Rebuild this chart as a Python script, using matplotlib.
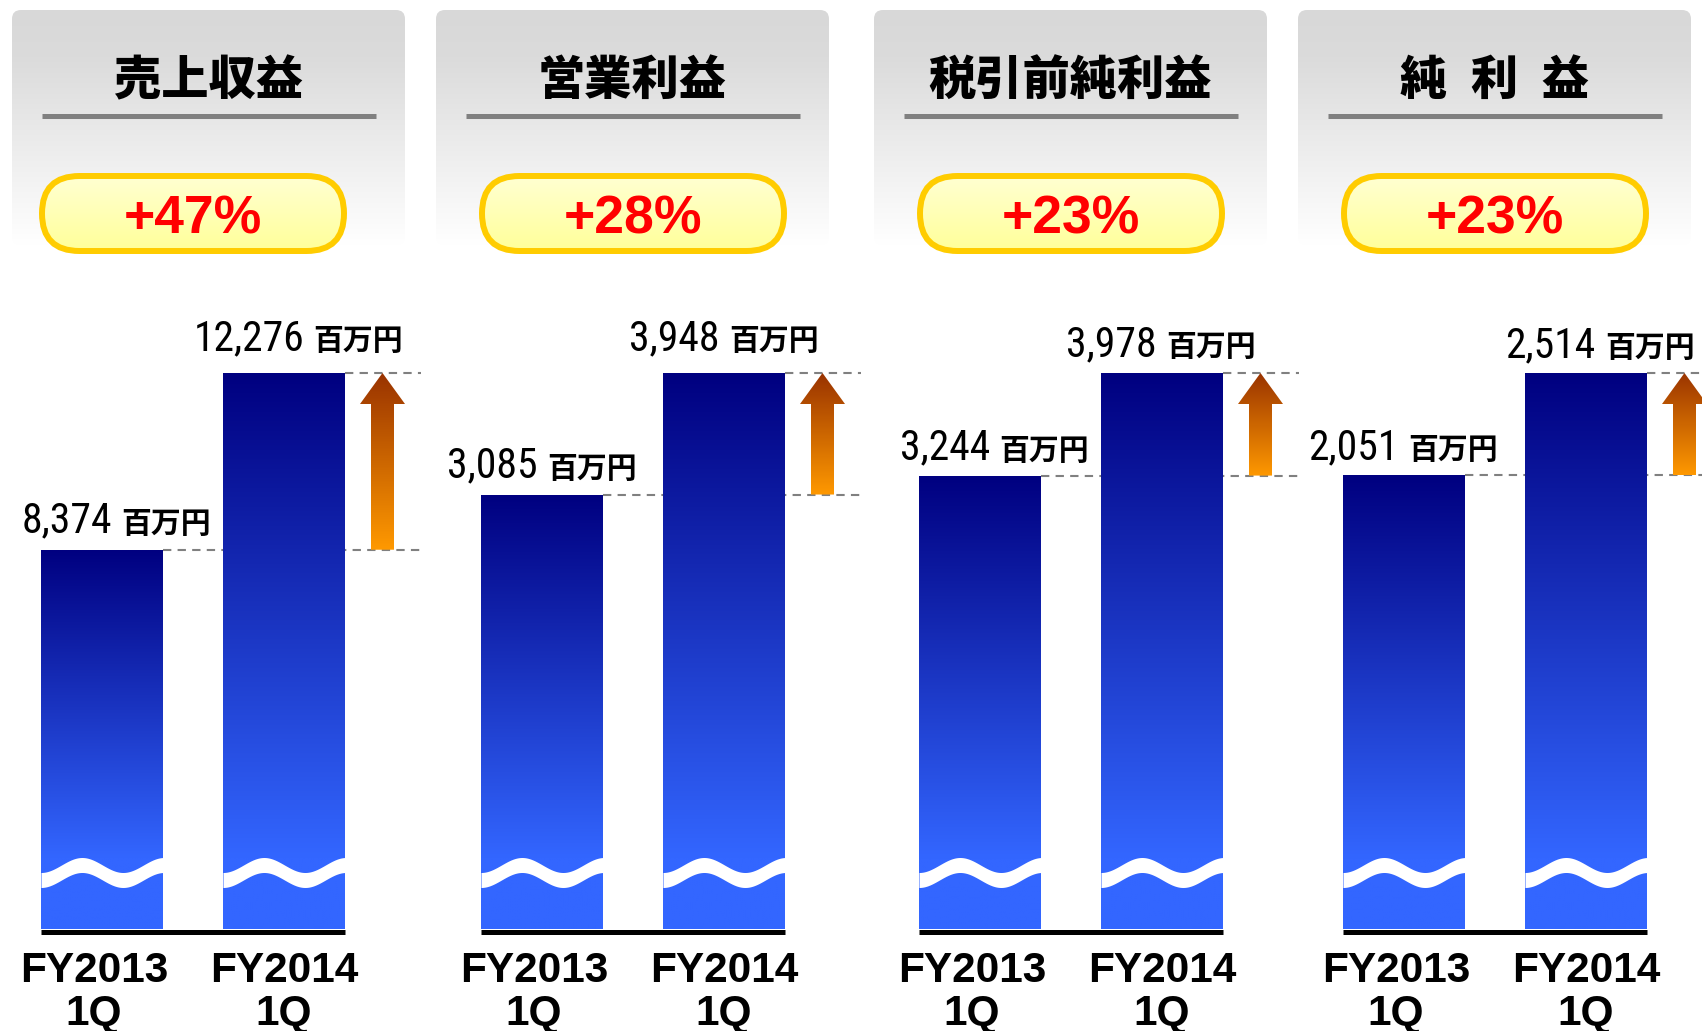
import numpy as np
import matplotlib
matplotlib.use("Agg")
import matplotlib.pyplot as plt
from matplotlib.patches import FancyBboxPatch, Polygon
from matplotlib.colors import to_rgb
from matplotlib import font_manager as fm

# data
titles = ["売上収益", "営業利益", "税引前純利益", "純\u2002利\u2002益"]
periods = ["FY2013\n1Q", "FY2014\n1Q"]
fy2013 = [8374, 3085, 3244, 2051]
fy2014 = [12276, 3948, 3978, 2514]
unit = "百万円"

# layout, in pixels of the 1702x1031 canvas
W, H = 1702, 1031
BAR_LEFT = [41, 481, 919, 1343]
BOX_LEFT = [12, 436, 874, 1298]
PITCH, BAR_W = 182, 122
BASE_Y, TOP_Y = 929, 373
SPAN = 380
# small per-label nudges (dx, dy) seen in the original
NUDGE = [[(14, 17), (14, 23)], [(0, 17), (0, 23)], [(14, 16), (-1, 17)], [(-1, 16), (14, 16)]]

CJK = ["Noto Sans CJK JP", "DejaVu Sans"]
names = {f.name for f in fm.fontManager.ttflist}
if "Liberation Sans Narrow" in names:
    NUM_FONT = dict(family="Liberation Sans Narrow")
elif "Roboto Condensed" in names:
    NUM_FONT = dict(family="Roboto Condensed")
else:
    NUM_FONT = dict(family="DejaVu Sans", stretch="condensed")


def vgrad(ax, extent, stops, clip, zorder=1, n=256):
    pos = np.linspace(0, 1, n)
    p = [s for s, _ in stops]
    cols = np.array([to_rgb(c) for _, c in stops])
    arr = np.stack([np.interp(pos, p, cols[:, k]) for k in range(3)], axis=-1)[:, None, :]
    im = ax.imshow(arr, extent=extent, aspect="auto", origin="upper",
                   interpolation="bilinear", zorder=zorder)
    im.set_clip_path(clip)
    return im


fig = plt.figure(figsize=(W / 100, H / 100), dpi=100)
bg = fig.add_axes([0, 0, 1, 1], zorder=0)
bg.axis("off")

axes = []
for i in range(4):
    B = BAR_LEFT[i]
    bx = BOX_LEFT[i]
    v1, v2 = fy2013[i], fy2014[i]

    # header box
    box = FancyBboxPatch((bx, 10), 393, 235, boxstyle="round,pad=0,rounding_size=9",
                         fc="none", ec="none")
    bg.add_patch(box)
    vgrad(bg, [bx, bx + 393, 245, 10],
          [(0, "#d8d8d8"), (0.2, "#dbdbdb"), (1, "#ffffff")], box, zorder=1)
    bg.plot([bx + 30, bx + 364], [115.5, 115.5], color="#808080", lw=3.6,
            solid_capstyle="butt", zorder=2)
    bg.text(bx + 196.5, 81, titles[i], ha="center", va="center", fontsize=34,
            fontweight="heavy", family=CJK, zorder=3)

    # growth pill
    pill = FancyBboxPatch((B + 1, 176), 302, 75, boxstyle="round,pad=0,rounding_size=37.5",
                          fc="none", ec="#ffcc00", lw=4.3, zorder=3)
    bg.add_patch(pill)
    vgrad(bg, [B + 1, B + 303, 251, 176], [(0, "#ffffd2"), (1, "#ffff99")], pill, zorder=2)
    pct = round((v2 / v1 - 1) * 100)
    bg.text(B + 152, 219, f"+{pct}%", ha="center", va="center", fontsize=38.5,
            fontweight="bold", family="Liberation Sans", color="#ff0000", zorder=4)

    # bars panel
    ax = fig.add_axes([B / W, 1 - BASE_Y / H, SPAN / W, (BASE_Y - TOP_Y) / H], zorder=1)
    ax.axis("off")
    ymax = max(v1, v2)
    py = ymax / (BASE_Y - TOP_Y)
    px = 1 / PITCH
    w = BAR_W / PITCH
    xmax = (SPAN - BAR_W / 2) / PITCH

    bars = ax.bar([0, 1], [v1, v2], width=w, color="none", edgecolor="none", zorder=3)
    wave_y = (BASE_Y - 858) * py
    for j, b in enumerate(bars):
        h = b.get_height()
        x0 = b.get_x()
        x1 = x0 + b.get_width()
        f = (h - wave_y) / h
        vgrad(ax, [x0, x1, 0, h], [(0, "#000080"), (f, "#3366ff"), (1, "#3366ff")], b, zorder=3)
        xs = np.linspace(x0, x1, 120)
        yc = 872.5 + 7.5 * np.cos(2 * np.pi * (xs - x0) / px / 82)
        yc = (BASE_Y - yc) * py
        ax.fill_between(xs, yc - 7.5 * py, yc + 7.5 * py, color="white", lw=0, zorder=4)

    ax.plot([-w / 2, 1 + w / 2], [-2.5 * py] * 2, color="black", lw=3.6,
            solid_capstyle="butt", clip_on=False, zorder=5)

    # dashed guides
    ax.plot([w / 2, xmax], [v1, v1], color="#808080", lw=1.5, dashes=(4, 3),
            clip_on=False, zorder=2)
    ax.plot([1 + w / 2, xmax], [v2, v2], color="#808080", lw=1.5, dashes=(4, 3),
            clip_on=False, zorder=2)

    # growth arrow
    ax_x = 1 + w / 2 + 37.5 * px
    sh, hh, hl = 11.5 * px, 22.5 * px, 31 * py
    pts = [(ax_x - sh, v1), (ax_x + sh, v1), (ax_x + sh, v2 - hl), (ax_x + hh, v2 - hl),
           (ax_x, v2), (ax_x - hh, v2 - hl), (ax_x - sh, v2 - hl)]
    arrow = Polygon(pts, closed=True, fc="none", ec="none")
    ax.add_patch(arrow)
    vgrad(ax, [ax_x - hh, ax_x + hh, v1, v2], [(0, "#993300"), (1, "#ff9900")], arrow, zorder=3)

    ax.set_xlim(-w / 2, xmax)
    ax.set_ylim(0, ymax)
    axes.append(ax)

bg.set_xlim(0, W)
bg.set_ylim(H, 0)

# value labels and period labels
renderer = fig.canvas.get_renderer()
for i, ax in enumerate(axes):
    vals = [fy2013[i], fy2014[i]]
    for j, v in enumerate(vals):
        dx, dy = NUDGE[i][j]
        dsp = ax.transData.transform((j, v))
        cx = dsp[0] + dx
        base = H - dsp[1] - dy
        t1 = bg.text(cx, base, f"{v:,}", fontsize=30, ha="left", va="baseline", **NUM_FONT)
        t2 = bg.text(cx, base, unit, fontsize=21.5, fontweight="bold", family=CJK,
                     ha="left", va="baseline")
        w1 = t1.get_window_extent(renderer).width
        w2 = t2.get_window_extent(renderer).width
        gap = 9
        start = cx - (w1 + gap + w2) / 2
        t1.set_position((start, base))
        t2.set_position((start + w1 + gap, base))

        lx = dsp[0] - (8 if j == 0 else 0)
        bg.text(lx, 951, periods[j], ha="center", va="top", fontsize=30.5,
                fontweight="bold", family="Liberation Sans", linespacing=1.1,
                multialignment="center")

fig.savefig("out.png", dpi=100)
